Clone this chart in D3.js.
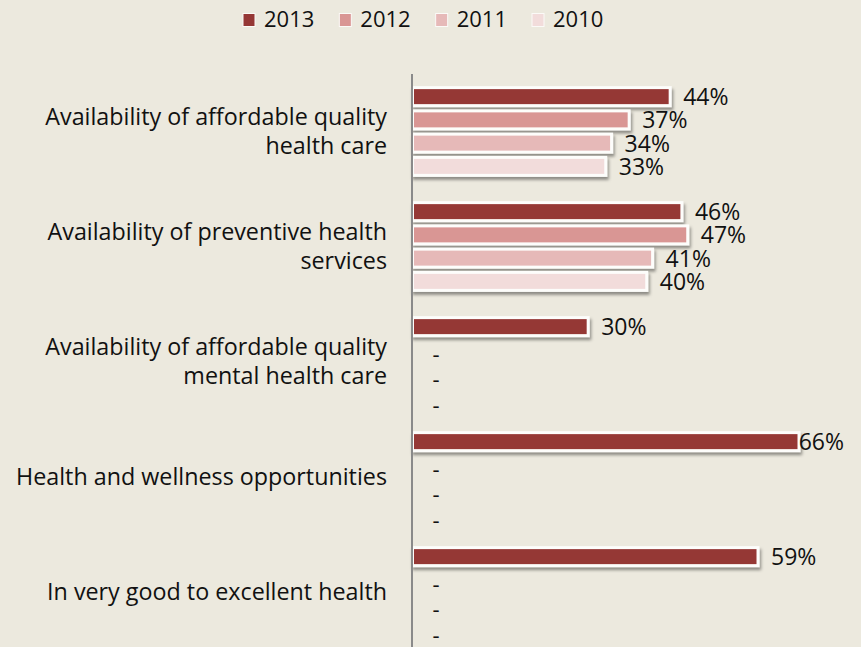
<!DOCTYPE html>
<html>
<head>
<meta charset="utf-8">
<script src="https://cdn.jsdelivr.net/npm/d3@7"></script>
<style>
  html, body { margin: 0; padding: 0; background: #ece9de; }
  svg { display: block; }
  text { font-family: "Open Sans", "Noto Sans", sans-serif; fill: #111; }
</style>
</head>
<body>
<svg id="chart" width="861" height="647"></svg>
<script>
// Survey categories (each entry is the lines of its label)
const categories = [
  ["Availability of affordable quality", "health care"],
  ["Availability of preventive health", "services"],
  ["Availability of affordable quality", "mental health care"],
  ["Health and wellness opportunities"],
  ["In very good to excellent health"]
];
const years = ["2013", "2012", "2011", "2010"];
const values2013 = [44, 46, 30, 66, 59];
const values2012 = [37, 47, null, null, null];
const values2011 = [34, 41, null, null, null];
const values2010 = [33, 40, null, null, null];
const yearColors = ["#953735", "#d99694", "#e6b9b8", "#f2dcdb"];

const seriesValues = [values2013, values2012, values2011, values2010];

const W = 861, H = 647;
const svg = d3.select("#chart");

// soft drop shadow under bars
const defs = svg.append("defs");
const f = defs.append("filter").attr("id", "shadow")
  .attr("x", "-5%").attr("y", "-40%").attr("width", "110%").attr("height", "200%");
f.append("feDropShadow").attr("dx", 1.5).attr("dy", 3).attr("stdDeviation", 1.6)
  .attr("flood-color", "#000").attr("flood-opacity", 0.4);

const x = d3.scaleLinear().domain([0, 66]).range([412.5, 799]);
const y0 = d3.scaleBand().domain(d3.range(categories.length)).range([74, 649]);
const y1 = d3.scaleBand().domain(years).range([11, 104]);
const color = d3.scaleOrdinal().domain(years).range(yearColors);

const barH = 18;
const rows = [];
categories.forEach((c, i) => {
  years.forEach((yr, j) => {
    rows.push({ cat: i, year: yr, value: seriesValues[j][i], j });
  });
});

const slotCenter = d => y0(d.cat) + y1(d.year) + y1.bandwidth() / 2;

// bars
svg.append("g").selectAll("rect.bar")
  .data(rows.filter(d => d.value != null))
  .join("rect")
  .attr("class", "bar")
  .attr("x", x(0))
  .attr("y", d => slotCenter(d) - barH / 2)
  .attr("width", d => x(d.value) - x(0))
  .attr("height", barH)
  .attr("fill", d => color(d.year))
  .attr("stroke", "#fdfdfb")
  .attr("stroke-width", 3)
  .attr("filter", "url(#shadow)");

// value labels, kept inside the plot's right edge
const labelRight = 844;
svg.append("g").selectAll("text.val")
  .data(rows.filter(d => d.value != null))
  .join("text")
  .attr("class", "val")
  .attr("font-size", 23)
  .attr("y", d => slotCenter(d) + 8.5)
  .text(d => d.value + "%")
  .each(function (d) {
    const w = this.getComputedTextLength();
    let px = x(d.value) + 13;
    if (px + w > labelRight) px = labelRight - w;
    d3.select(this).attr("x", px);
  });

// dash labels for years without a value
svg.append("g").selectAll("text.na")
  .data(rows.filter(d => d.value == null))
  .join("text")
  .attr("class", "na")
  .attr("font-size", 22)
  .attr("x", x(0) + 20)
  .attr("y", d => slotCenter(d) + 12 + (d.j - 1) * 2.3)
  .text("-");

// vertical axis line
svg.append("line")
  .attr("x1", 412).attr("x2", 412)
  .attr("y1", 74).attr("y2", H)
  .attr("stroke", "#8a8a8a").attr("stroke-width", 2);

// category labels
const catG = svg.append("g");
categories.forEach((lines, i) => {
  const cy = y0(i) + y0.bandwidth() / 2;
  const lh = 29;
  const first = cy + 8 - (lines.length - 1) * lh / 2;
  const t = catG.append("text")
    .attr("text-anchor", "end")
    .attr("font-size", 23.3);
  lines.forEach((ln, k) => {
    t.append("tspan").attr("x", 387).attr("y", first + k * lh).text(ln);
  });
});

// legend
const legendX = d3.scalePoint().domain(years).range([243, 532]);
const lg = svg.append("g").selectAll("g").data(years).join("g")
  .attr("transform", d => `translate(${legendX(d)},0)`);
lg.append("rect")
  .attr("x", 0).attr("y", 13.5).attr("width", 12).attr("height", 13)
  .attr("fill", d => color(d))
  .attr("stroke", "#fbfaf7").attr("stroke-width", 1);
lg.append("text")
  .attr("x", 21).attr("y", 26.5)
  .attr("font-size", 22)
  .text(d => d);
</script>
</body>
</html>
